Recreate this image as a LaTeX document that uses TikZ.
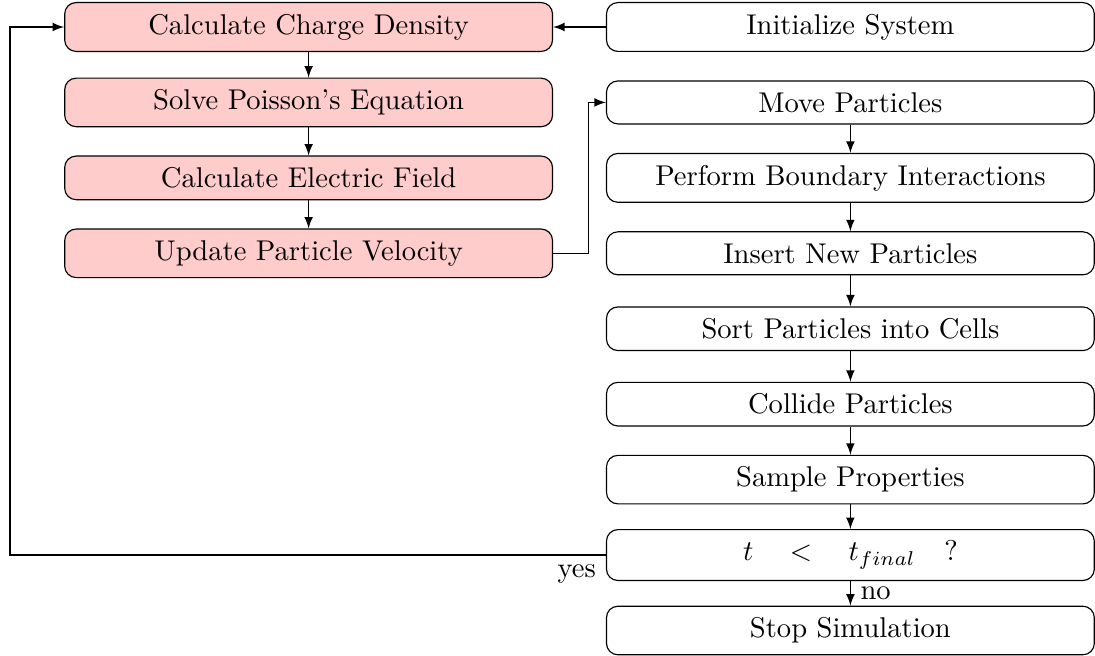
\documentclass[tikz,border=0pt]{standalone}
\begin{document}
\begin{tikzpicture}[
			>=latex,
			pic/.style={rectangle, rounded corners, draw=black, fill=red!20, minimum width=6cm, inner sep=4pt},
			dsmc/.style={rectangle, rounded corners, draw=black, minimum width=6cm, inner sep=4pt},
			]
			\useasboundingbox (0,0.945em) rectangle (38.32em,-21.98em);
			\node[pic] at (10.8em,0) (calc) {Calculate Charge Density};
			\node[pic] at (10.8em,-2.64em) (poisson) {Solve Poisson's Equation};
			\node[pic] at (10.8em,-5.28em) (efield) {Calculate Electric Field};
			\node[pic] at (10.8em,-7.92em) (velocity) {Update Particle Velocity};
			\node[dsmc] at (29.76em,0) (init) {Initialize System};
			\node[dsmc] at (29.76em,-2.64em) (move) {Move Particles};
			\node[dsmc] at (29.76em,-5.28em) (boundary) {Perform Boundary Interactions};
			\node[dsmc] at (29.76em,-7.92em) (insert) {Insert New Particles};
			\node[dsmc] at (29.76em,-10.56em) (sort) {Sort Particles into Cells};
			\node[dsmc] at (29.76em,-13.2em) (collide) {Collide Particles};
			\node[dsmc] at (29.76em,-15.84em) (sample) {Sample Properties};
			\node[dsmc] at (29.76em,-18.48em) (check) {$t \quad < \quad t_{final} \quad ?$};
			\node[dsmc] at (29.76em,-21.12em) (stop) {Stop Simulation};
			\coordinate (loop) at (0.35em,0);
			\draw[->] (init) -- (calc);
			\draw[->] (calc) -- (poisson);
			\draw[->] (poisson) -- (efield);
			\draw[->] (efield) -- (velocity);
			\draw[->] (velocity.east) -- ++(1.25em,0) |- (move.west);
			\draw[->] (move) -- (boundary);
			\draw[->] (boundary) -- (insert);
			\draw[->] (insert) -- (sort);
			\draw[->] (sort) -- (collide);
			\draw[->] (collide) -- (sample);
			\draw[->] (sample) -- (check);
			\draw[->] (check) -- node[right] {no} (stop);
			\draw[->] (check.west) node[below left] {yes} -| (loop) -- (calc.west);
		\end{tikzpicture}
\end{document}
